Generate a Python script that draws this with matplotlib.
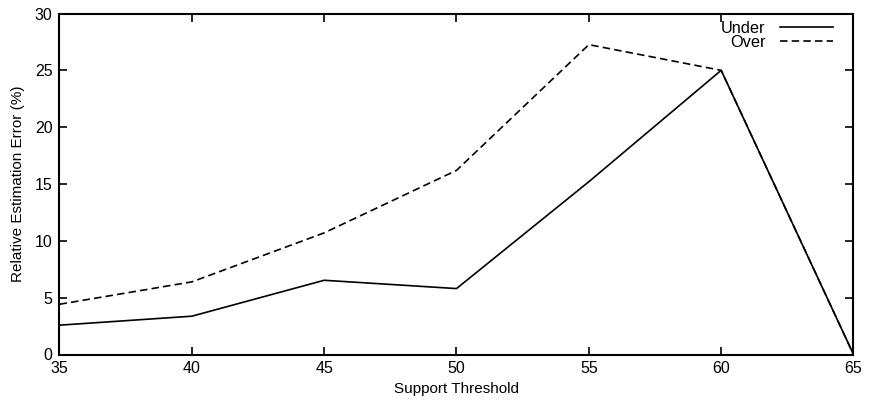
import matplotlib
matplotlib.use("Agg")
import matplotlib.pyplot as plt

support = [35, 40, 45, 50, 55, 60, 65]
under = [2.58, 3.37, 6.53, 5.8, 15.2, 25.0, 0.0]
over = [4.42, 6.39, 10.7, 16.2, 27.26, 25.0, 0.0]
xticks = [35, 40, 45, 50, 55, 60, 65]
yticks = [0, 5, 10, 15, 20, 25, 30]

plt.rcParams['font.family'] = ['Liberation Sans', 'DejaVu Sans']
fig = plt.figure(figsize=(8.7, 4.03), dpi=100)
W, H = 870, 403
left, right, top, bottom = 59.5, 853.5, 13.5, 354.5
ax = fig.add_axes([left / W, 1 - bottom / H, (right - left) / W, (bottom - top) / H])

ax.plot(support, under, color='black', lw=1.2, label='Under')
ax.plot(support, over, color='black', lw=1.2, ls=(0, (4.5, 2.5)), label='Over')

ax.set_xlim(35, 65)
ax.set_ylim(0, 30)
ax.set_xticks(xticks)
ax.set_yticks(yticks)
ax.tick_params(direction='in', length=6, width=1.2, top=True, right=True,
               labelsize=11.5, pad=5)
for s in ax.spines.values():
    s.set_linewidth(1.5)
ax.set_xlabel('Support Threshold', fontsize=11, labelpad=4)
ax.set_ylabel('Relative Estimation Error (%)', fontsize=11, labelpad=7)

leg = ax.legend(loc='upper right', frameon=False, markerfirst=False,
                fontsize=11.8, handlelength=3.2, handletextpad=0.9,
                labelspacing=-0.05, borderaxespad=0.0, borderpad=0.0,
                bbox_to_anchor=(0.974, 0.978))
for t in leg.get_texts():
    t.set_ha('right')

fig.savefig('out.png', dpi=100)
